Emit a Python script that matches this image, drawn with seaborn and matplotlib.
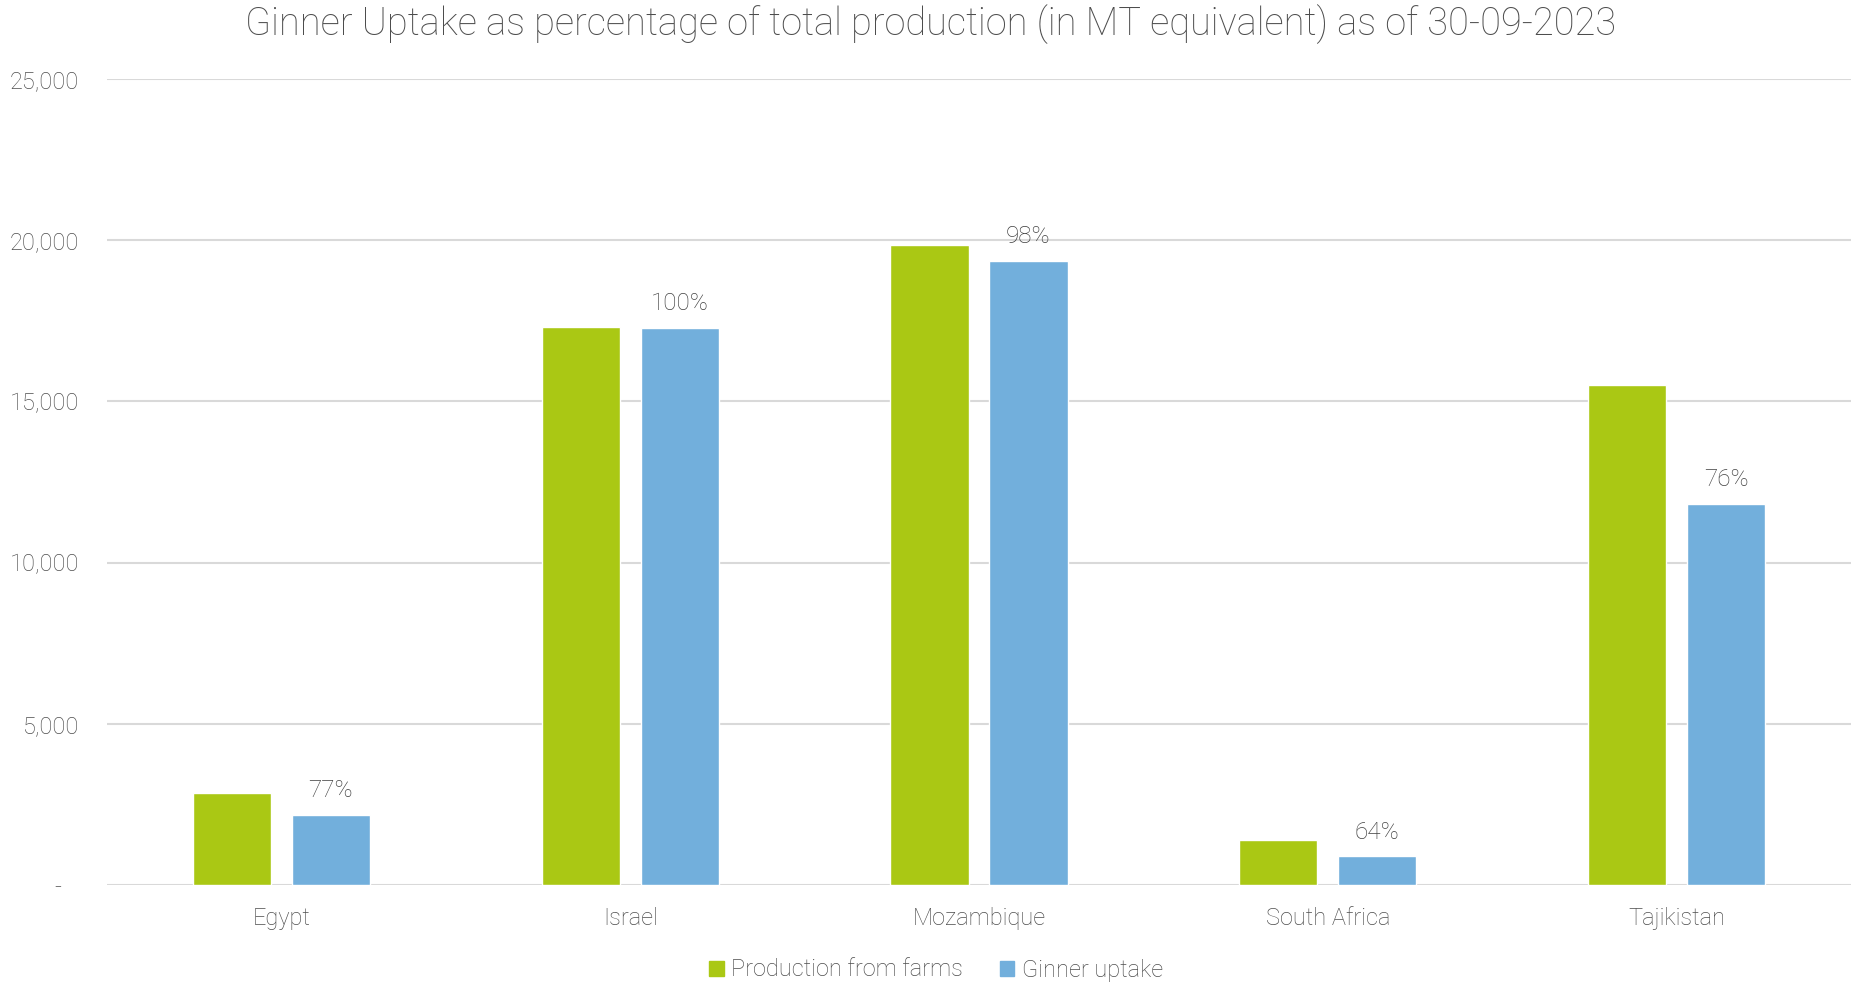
import seaborn as sns
import pandas as pd
import matplotlib.pyplot as plt
from matplotlib.ticker import FuncFormatter

countries = ['Egypt', 'Israel', 'Mozambique', 'South Africa', 'Tajikistan']
production = [2840, 17300, 19840, 1390, 15510]   # Production from farms
uptake = [2180, 17290, 19370, 890, 11820]        # Ginner uptake
uptake_pct = ['77%', '100%', '98%', '64%', '76%']
series = ['Production from farms', 'Ginner uptake']
yticks = [0, 5000, 10000, 15000, 20000, 25000]

df = pd.DataFrame({
    'country': countries * 2,
    'series': [series[0]] * len(countries) + [series[1]] * len(countries),
    'value': production + uptake,
})

sns.set_style('white')
plt.rcParams['font.family'] = ['Roboto', 'DejaVu Sans']
plt.rcParams['font.weight'] = 'light'
txt = '#4d4d4d'

fig = plt.figure(figsize=(18.52, 9.84), dpi=100)
ax = fig.add_axes([107/1852, 1-885/984, 1744/1852, (885-79)/984])

sns.barplot(data=df, x='country', y='value', hue='series', ax=ax,
            palette=['#AAC814', '#72AFDC'], width=0.568, gap=0.21,
            saturation=1, legend=False)

ax.set_ylim(0, 25000)
ax.set_xlim(-0.5, 4.5)
ax.set_yticks(yticks)
ax.yaxis.set_major_formatter(FuncFormatter(lambda v, p: '-   ' if v == 0 else f'{v:,.0f}'))
ax.grid(axis='y', color='#D9D9D9', linewidth=1.5)
ax.set_axisbelow(True)
for s in ['top', 'right', 'left', 'bottom']:
    ax.spines[s].set_visible(False)
ax.tick_params(axis='y', length=0, pad=20, labelsize=17, labelcolor=txt)
ax.tick_params(axis='x', length=0, pad=16, labelsize=17, labelcolor=txt)
ax.set_xlabel('')
ax.set_ylabel('')

ax.bar_label(ax.containers[1], labels=uptake_pct, padding=9, fontsize=17.5, color='#404040')

fig.text(931/1852, 1-24/984,
         'Ginner Uptake as percentage of total production (in MT equivalent) as of 30-09-2023',
         ha='center', va='center', fontsize=27.4, color=txt)

handles = [plt.Rectangle((0, 0), 1, 1, color=c) for c in ['#AAC814', '#72AFDC']]
fig.legend(handles, series, loc='center', bbox_to_anchor=(936/1852, 1-970/984),
           ncol=2, frameon=False, fontsize=17, labelcolor=txt,
           handlelength=0.6, handleheight=0.6, handletextpad=0.3, columnspacing=1.6)

fig.savefig('out.png', dpi=100)
